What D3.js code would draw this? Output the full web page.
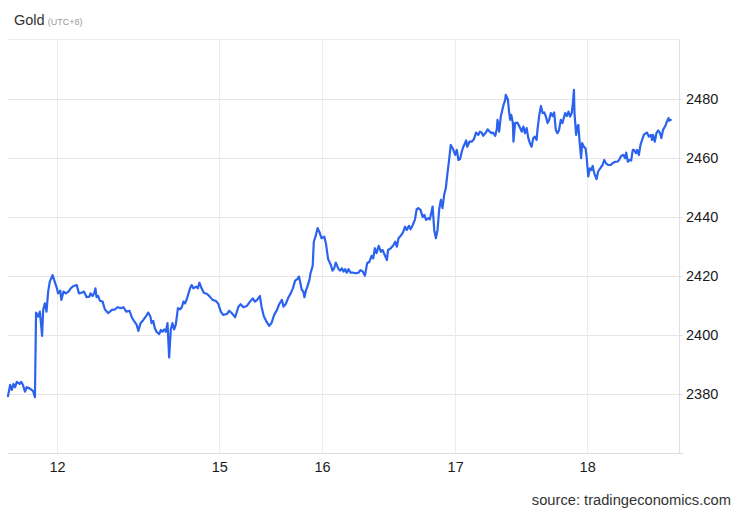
<!DOCTYPE html>
<html>
<head>
<meta charset="utf-8">
<script src="https://cdn.jsdelivr.net/npm/d3@7"></script>
<style>
  html, body { margin: 0; padding: 0; background: #fff; }
  svg { display: block; font-family: "Liberation Sans", Arial, sans-serif; }
</style>
</head>
<body>
<svg id="chart" width="740" height="513"></svg>
<script>
// Compressed trading-time axis (hours since first sample)
const hours = [
  0,0.4,0.7,1.0,1.3,1.6,2.1,2.4,2.7,3.1,3.4,3.9,4.3,4.6,4.9,
  5.1,5.5,5.8,6.2,6.4,6.7,7.0,7.3,7.6,8.1,8.4,8.9,9.1,9.5,9.7,
  10.1,10.5,11.0,11.4,11.9,12.5,12.9,13.4,13.8,14.3,14.8,15.0,15.4,15.7,15.9,16.1,16.4,16.7,17.2,17.6,18.2,18.9,
  19.5,19.9,20.5,21.0,21.5,22.1,22.5,22.9,23.4,23.7,24.1,24.6,25.1,25.5,25.9,26.1,26.4,26.7,27.0,27.5,
  27.8,28.1,28.4,28.7,29.0,29.3,29.6,29.9,30.2,30.5,30.9,31.3,31.6,31.9,32.2,32.5,32.8,33.1,33.4,33.7,
  34.2,34.5,34.8,35.2,35.6,36.2,36.7,37.2,37.8,38.2,38.7,39.1,39.8,40.2,
  40.7,41.3,41.9,42.3,42.8,43.4,44.0,44.5,44.9,45.3,45.8,46.1,46.5,47.0,47.5,47.9,48.4,48.9,49.3,49.8,
  50.1,50.5,51.0,51.4,51.8,52.2,52.6,52.9,53.1,53.4,53.7,53.9,54.2,54.4,54.8,55.0,55.4,55.6,55.9,56.3,
  56.6,57.0,57.5,57.8,58.2,58.7,59.0,59.3,59.6,60.1,60.4,
  60.7,61.0,61.3,61.6,61.9,62.3,62.8,63.3,63.7,64.1,64.5,64.9,65.3,65.7,66.1,66.4,66.7,67.0,67.4,67.8,
  68.1,68.5,68.9,69.1,69.6,70.1,70.4,70.7,71.0,71.4,71.8,72.2,72.5,72.9,73.2,73.6,74.0,74.3,74.6,75.0,
  75.4,75.7,76.0,76.4,76.7,77.0,77.2,77.5,77.8,78.1,78.4,78.7,79.0,79.3,79.6,79.9,80.2,80.5,80.9,
  81.3,81.6,81.9,82.2,82.5,82.8,83.3,83.5,83.9,84.3,84.7,85.1,85.5,85.8,86.1,86.4,86.9,87.2,87.6,87.9,
  88.2,88.6,88.9,89.0,89.3,89.6,90.1,90.4,90.5,90.9,91.1,91.3,91.5,91.8,91.9,92.2,92.6,93.0,93.4,93.7,
  94.0,94.3,94.6,94.9,95.2,95.5,95.8,96.1,96.3,96.6,96.9,97.2,97.5,97.8,98.1,98.4,98.7,99.0,99.3,99.6,
  99.9,100.2,100.5,100.8,101.3,101.6,101.9,102.2,102.5,102.7,102.9,103.0,103.3,103.5,103.7,103.9,104.2,104.4,104.7,105.0,
  105.2,105.5,105.8,106.1,106.3,106.6,107.0,107.3,107.8,108.1,108.4,108.7,109.1,109.6,109.9,110.4,110.8,111.1,111.5,111.9,
  112.2,112.4,112.7,113.0,113.3,113.6,113.8,114.2,114.4,114.7,115.0,115.3,115.6,116.0,116.2,116.5,116.9,117.1,117.3,117.6,
  117.9,118.2,118.5,118.8,119.1,119.5,119.8,120.1,120.2,120.5
];

const prices = [
  2379.3,2383.1,2381.4,2383.4,2382.3,2384.1,2383.4,2384.1,2383.1,2380.8,2382.3,2381.9,2381.4,2380.8,2378.9,
  2407.6,2406.2,2407.9,2399.7,2408.5,2410.7,2407.9,2414.7,2418.1,2420.3,2418.6,2415.8,2414.1,2415.0,2411.9,
  2414.7,2414.1,2414.7,2415.8,2416.6,2416.9,2414.1,2414.3,2414.7,2412.8,2413.0,2414.1,2413.2,2414.3,2415.8,2412.8,2413.2,2411.6,2411.3,2408.7,2407.4,2408.5,
  2408.7,2409.4,2409.1,2409.4,2407.9,2408.2,2406.0,2404.8,2403.4,2401.4,2404.0,2405.1,2406.4,2407.6,2406.2,2404.0,2404.8,2402.3,2401.1,2400.3,
  2401.7,2401.1,2401.9,2401.1,2404.0,2392.4,2401.9,2404.0,2401.9,2403.4,2409.1,2408.7,2409.4,2411.3,2410.7,2412.1,2413.9,2415.8,2416.9,2415.8,
  2416.4,2415.8,2417.7,2415.8,2414.3,2413.9,2413.0,2411.9,2411.5,2410.7,2407.9,2406.8,2407.1,2408.2,
  2407.4,2406.0,2409.6,2410.4,2409.4,2409.8,2411.3,2412.4,2411.3,2411.9,2413.2,2409.6,2406.4,2404.5,2403.1,2404.0,2406.8,2408.5,2410.4,2411.9,
  2409.6,2410.5,2412.8,2414.1,2415.8,2418.4,2418.9,2419.8,2418.1,2415.3,2414.7,2412.8,2415.3,2416.2,2418.6,2420.9,2423.4,2431.6,2433.3,2436.2,
  2435.0,2432.8,2433.3,2431.1,2425.7,2423.7,2421.8,2422.6,2424.5,2422.3,2421.8,
  2422.6,2421.5,2422.3,2421.1,2422.3,2421.1,2421.1,2420.9,2421.1,2422.0,2421.5,2420.1,2424.3,2424.8,2426.8,2426.0,2429.4,2427.7,2430.2,2428.2,
  2428.8,2427.1,2425.4,2428.8,2429.4,2430.5,2431.6,2429.9,2432.8,2433.6,2434.7,2436.7,2435.6,2437.0,2435.8,2437.3,2439.2,2442.6,2443.0,2442.4,
  2439.9,2440.7,2439.0,2439.6,2439.2,2441.8,2443.5,2435.6,2432.8,2435.6,2442.6,2445.8,2443.0,2447.5,2449.7,2454.8,2459.3,2464.4,2463.1,
  2461.0,2462.7,2459.3,2459.6,2462.1,2463.8,2465.9,2463.8,2465.5,2465.5,2466.3,2468.6,2467.8,2468.9,2468.6,2467.5,2468.6,2469.7,2468.9,2468.4,
  2468.6,2467.5,2470.1,2472.9,2468.9,2474.0,2478.0,2479.7,2481.4,2479.7,2475.7,2472.9,2474.6,2471.8,2465.5,2471.8,2472.0,2470.6,2468.9,2470.6,
  2468.4,2470.1,2466.7,2465.0,2463.8,2466.7,2467.2,2466.1,2470.1,2474.6,2477.6,2475.2,2475.4,2474.0,2471.8,2472.9,2475.2,2474.2,2475.4,2469.5,
  2468.4,2469.5,2472.9,2471.8,2475.2,2474.2,2475.7,2474.0,2475.2,2478.5,2483.1,2475.2,2467.8,2470.6,2471.2,2466.1,2459.9,2465.0,2463.8,2463.3,
  2460.4,2453.7,2456.5,2455.9,2457.3,2454.8,2452.8,2455.4,2456.8,2457.6,2459.3,2458.2,2457.6,2457.6,2458.2,2458.7,2458.7,2459.3,2460.7,2461.0,
  2459.9,2461.8,2458.7,2459.3,2459.1,2462.7,2462.7,2461.6,2462.7,2461.0,2464.4,2466.1,2467.8,2468.4,2468.6,2467.2,2467.8,2466.1,2467.8,2465.5,
  2468.4,2469.3,2468.6,2466.7,2469.5,2470.8,2472.3,2473.5,2472.6,2472.9
];

const dayTickHours = [8.9, 38.4, 57.1, 81.3, 105.3];
const dayTickLabels = ["12", "15", "16", "17", "18"];
const priceTicks = [2380, 2400, 2420, 2440, 2460, 2480];
const titleText = "Gold";
const subtitleText = "(UTC+8)";
const sourceText = "source: tradingeconomics.com";

const plotLeft = 8, plotRight = 679, plotTop = 39, plotBottom = 453;

const svg = d3.select("#chart");

const x = d3.scaleLinear().domain([0, 122]).range([plotLeft, plotRight]);
const y = d3.scaleLinear().domain([2360, 2500.3]).range([plotBottom, plotTop]);

// gridlines
const grid = svg.append("g");
grid.selectAll("line.h").data(priceTicks).join("line")
  .attr("x1", plotLeft).attr("x2", plotRight + 4)
  .attr("y1", d => Math.round(y(d)) + 0.5).attr("y2", d => Math.round(y(d)) + 0.5)
  .attr("stroke", "#e6e6e6").attr("stroke-width", 1);
grid.append("line")
  .attr("x1", plotLeft).attr("x2", plotRight).attr("y1", plotTop + 0.5).attr("y2", plotTop + 0.5)
  .attr("stroke", "#ececec");
grid.selectAll("line.v").data(dayTickHours).join("line")
  .attr("x1", d => Math.round(x(d)) + 0.5).attr("x2", d => Math.round(x(d)) + 0.5)
  .attr("y1", plotTop).attr("y2", plotBottom)
  .attr("stroke", "#ececec").attr("stroke-width", 1);

// axis frame lines
svg.append("line")
  .attr("x1", plotRight + 0.5).attr("x2", plotRight + 0.5).attr("y1", plotTop).attr("y2", plotBottom)
  .attr("stroke", "#e0e0e0");
svg.append("line")
  .attr("x1", plotLeft).attr("x2", plotRight + 4).attr("y1", plotBottom + 0.5).attr("y2", plotBottom + 0.5)
  .attr("stroke", "#dcdcdc");

// axes
const yAxis = d3.axisRight(y).tickValues(priceTicks).tickSize(0).tickPadding(7).tickFormat(d3.format("d"));
const gy = svg.append("g").attr("transform", `translate(${plotRight},0)`).call(yAxis);
gy.select(".domain").remove();
gy.selectAll("text").attr("font-size", 14.5).attr("fill", "#1a1a1a")
  .style("font-family", "'Liberation Sans', Arial, sans-serif");

const xAxis = d3.axisBottom(x).tickValues(dayTickHours).tickSize(0).tickPadding(9)
  .tickFormat((d, i) => dayTickLabels[i]);
const gx = svg.append("g").attr("transform", `translate(0,${plotBottom})`).call(xAxis);
gx.select(".domain").remove();
gx.selectAll("text").attr("font-size", 14.5).attr("fill", "#1a1a1a")
  .style("font-family", "'Liberation Sans', Arial, sans-serif");

// line
const line = d3.line()
  .x((d, i) => x(hours[i]))
  .y(d => y(d))
  .curve(d3.curveLinear);
svg.append("path")
  .datum(prices)
  .attr("d", line)
  .attr("fill", "none")
  .attr("stroke", "#2b63ef")
  .attr("stroke-width", 2.2)
  .attr("stroke-linejoin", "round")
  .attr("stroke-linecap", "round");

// title
const title = svg.append("text").attr("x", 14).attr("y", 25)
  .attr("font-size", 14.5).attr("fill", "#333");
title.append("tspan").text(titleText);
title.append("tspan").attr("dx", 3).attr("font-size", 9).attr("fill", "#999").text(subtitleText);

// source
svg.append("text").attr("x", 731).attr("y", 505).attr("text-anchor", "end")
  .attr("font-size", 14.7).attr("fill", "#333").text(sourceText);
</script>
</body>
</html>
